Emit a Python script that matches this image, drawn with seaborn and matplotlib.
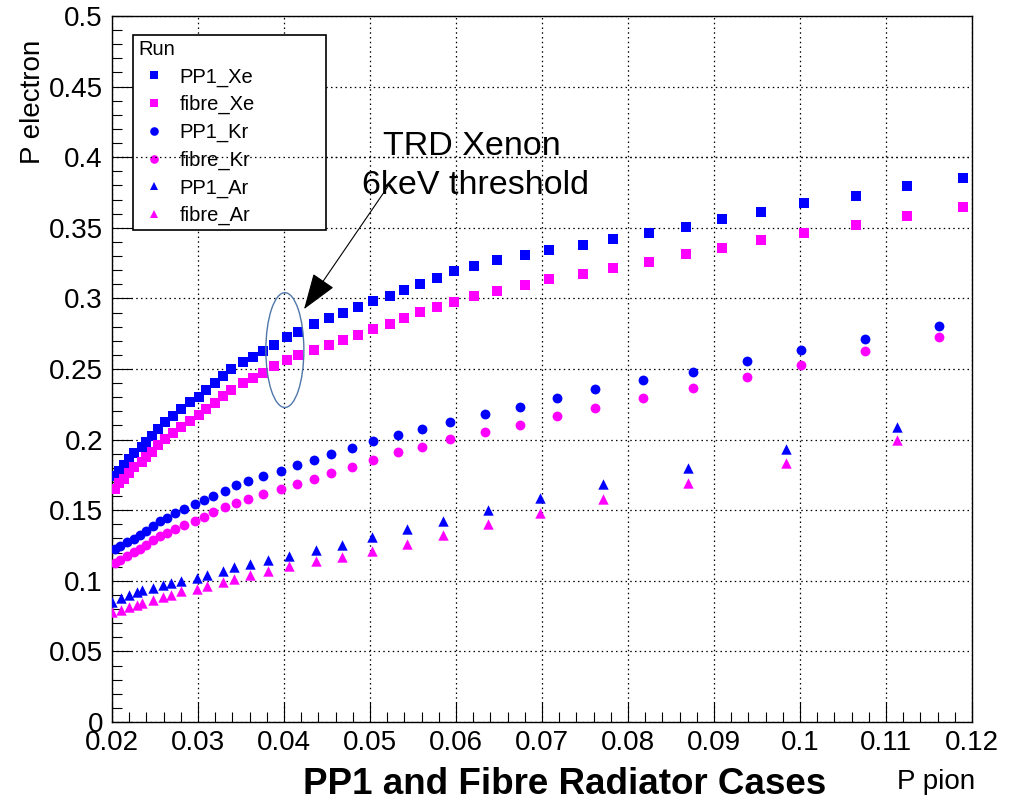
import matplotlib
matplotlib.use("Agg")
import numpy as np
import pandas as pd
import seaborn as sns
import matplotlib.pyplot as plt
from matplotlib.patches import Ellipse, FancyArrowPatch
from matplotlib.lines import Line2D
from matplotlib.ticker import MultipleLocator, FuncFormatter

# ---------------- data (P pion vs P electron) ----------------
xe_p_pion = [0.0203, 0.0208, 0.0214, 0.0220, 0.0226, 0.0235, 0.0239, 0.0246, 0.0253, 0.0262,
             0.0271, 0.0280, 0.0291, 0.0301, 0.0309, 0.0320, 0.0329, 0.0338, 0.0352, 0.0364,
             0.0375, 0.0388, 0.0403, 0.0416, 0.0435, 0.0452, 0.0469, 0.0486, 0.0504, 0.0523,
             0.0540, 0.0558, 0.0578, 0.0598, 0.0621, 0.0648, 0.0680, 0.0708, 0.0748, 0.0783,
             0.0824, 0.0867, 0.0909, 0.0955, 0.1005, 0.1065, 0.1124, 0.1190]
pp1_xe = [0.1743, 0.1779, 0.1821, 0.1863, 0.1904, 0.1951, 0.1986, 0.2028, 0.2076, 0.2123,
          0.2170, 0.2215, 0.2264, 0.2304, 0.2351, 0.2403, 0.2450, 0.2500, 0.2550, 0.2587,
          0.2627, 0.2672, 0.2724, 0.2764, 0.2816, 0.2859, 0.2896, 0.2938, 0.2981, 0.3018,
          0.3059, 0.3101, 0.3146, 0.3191, 0.3226, 0.3269, 0.3306, 0.3344, 0.3377, 0.3421,
          0.3464, 0.3509, 0.3561, 0.3615, 0.3674, 0.3723, 0.3794, 0.3851]
fibre_xe = [0.1651, 0.1692, 0.1722, 0.1762, 0.1809, 0.1844, 0.1880, 0.1915, 0.1963, 0.2005,
            0.2050, 0.2092, 0.2134, 0.2175, 0.2217, 0.2262, 0.2309, 0.2351, 0.2399, 0.2434,
            0.2474, 0.2523, 0.2564, 0.2597, 0.2634, 0.2672, 0.2705, 0.2743, 0.2781, 0.2818,
            0.2859, 0.2901, 0.2941, 0.2976, 0.3016, 0.3052, 0.3096, 0.3136, 0.3172, 0.3212,
            0.3259, 0.3311, 0.3358, 0.3412, 0.3462, 0.3518, 0.3582, 0.3646]

kr_p_pion = [0.0203, 0.0209, 0.0217, 0.0225, 0.0233, 0.0240, 0.0248, 0.0256, 0.0264, 0.0273,
             0.0284, 0.0296, 0.0307, 0.0318, 0.0331, 0.0344, 0.0358, 0.0375, 0.0396, 0.0415,
             0.0435, 0.0455, 0.0479, 0.0504, 0.0532, 0.0561, 0.0593, 0.0634, 0.0674, 0.0717,
             0.0762, 0.0817, 0.0875, 0.0938, 0.1001, 0.1075, 0.1162]
pp1_kr = [0.1225, 0.1243, 0.1272, 0.1298, 0.1326, 0.1356, 0.1385, 0.1420, 0.1448, 0.1479,
          0.1508, 0.1543, 0.1574, 0.1604, 0.1639, 0.1675, 0.1710, 0.1745, 0.1781, 0.1821,
          0.1859, 0.1899, 0.1943, 0.1989, 0.2033, 0.2078, 0.2123, 0.2180, 0.2233, 0.2295,
          0.2356, 0.2420, 0.2481, 0.2557, 0.2632, 0.2712, 0.2802]
fibre_kr = [0.1126, 0.1149, 0.1173, 0.1201, 0.1225, 0.1255, 0.1286, 0.1314, 0.1338, 0.1366,
            0.1397, 0.1427, 0.1455, 0.1487, 0.1522, 0.1554, 0.1581, 0.1616, 0.1651, 0.1687,
            0.1724, 0.1762, 0.1809, 0.1856, 0.1909, 0.1951, 0.2003, 0.2057, 0.2104, 0.2165,
            0.2224, 0.2293, 0.2368, 0.2446, 0.2528, 0.2625, 0.2726]

ar_p_pion = [0.0200, 0.0210, 0.0220, 0.0229, 0.0235, 0.0248, 0.0259, 0.0269, 0.0280, 0.0299,
             0.0311, 0.0329, 0.0342, 0.0360, 0.0381, 0.0406, 0.0437, 0.0468, 0.0502, 0.0543,
             0.0585, 0.0637, 0.0698, 0.0771, 0.0870, 0.0984, 0.1113]
pp1_ar = [0.0850, 0.0878, 0.0897, 0.0918, 0.0932, 0.0949, 0.0967, 0.0984, 0.1001, 0.1020,
          0.1043, 0.1068, 0.1095, 0.1120, 0.1146, 0.1178, 0.1215, 0.1255, 0.1307, 0.1365,
          0.1425, 0.1499, 0.1584, 0.1683, 0.1798, 0.1932, 0.2092]
fibre_ar = [0.0777, 0.0796, 0.0812, 0.0826, 0.0843, 0.0861, 0.0883, 0.0902, 0.0925, 0.0944,
            0.0965, 0.0992, 0.1013, 0.1041, 0.1070, 0.1102, 0.1137, 0.1168, 0.1213, 0.1262,
            0.1326, 0.1400, 0.1478, 0.1577, 0.1692, 0.1837, 0.1998]

run_names = ["PP1_Xe", "fibre_Xe", "PP1_Kr", "fibre_Kr", "PP1_Ar", "fibre_Ar"]
run_x = [xe_p_pion, xe_p_pion, kr_p_pion, kr_p_pion, ar_p_pion, ar_p_pion]
run_y = [pp1_xe, fibre_xe, pp1_kr, fibre_kr, pp1_ar, fibre_ar]

x_ticks = [0.02, 0.03, 0.04, 0.05, 0.06, 0.07, 0.08, 0.09, 0.10, 0.11, 0.12]
y_ticks = [0, 0.05, 0.1, 0.15, 0.2, 0.25, 0.3, 0.35, 0.4, 0.45, 0.5]

BLUE = "#0000ff"
MAGENTA = "#ff00ff"
colors = {"PP1_Xe": BLUE, "fibre_Xe": MAGENTA, "PP1_Kr": BLUE,
          "fibre_Kr": MAGENTA, "PP1_Ar": BLUE, "fibre_Ar": MAGENTA}
markers = {"PP1_Xe": "s", "fibre_Xe": "s", "PP1_Kr": "o",
           "fibre_Kr": "o", "PP1_Ar": "^", "fibre_Ar": "^"}
sizes = {"s": 48, "o": 50, "^": 56}

df = pd.concat([pd.DataFrame({"p_pion": xs, "p_electron": ys, "run": name})
                for name, xs, ys in zip(run_names, run_x, run_y)], ignore_index=True)

# ---------------- style ----------------
sns.set_style("white")
plt.rcParams["font.family"] = ["Liberation Sans", "DejaVu Sans"]
plt.rcParams["text.color"] = "black"
plt.rcParams["axes.labelcolor"] = "black"
plt.rcParams["xtick.color"] = "black"
plt.rcParams["ytick.color"] = "black"
plt.rcParams["lines.scale_dashes"] = True

W, H = 1015, 802
fig = plt.figure(figsize=(W / 100, H / 100), dpi=100)
L, R, T, B = 112, 972, 16, 722
ax = fig.add_axes([L / W, 1 - B / H, (R - L) / W, (B - T) / H])

for name in run_names:
    sub = df[df["run"] == name]
    m = markers[name]
    sns.scatterplot(data=sub, x="p_pion", y="p_electron", ax=ax, color=colors[name],
                    marker=m, s=sizes[m], linewidth=0, legend=False, zorder=3)

ax.set_xlim(0.02, 0.12)
ax.set_ylim(0, 0.5)
ax.set_xlabel("")
ax.set_ylabel("")

fmt = FuncFormatter(lambda v, p: "%g" % round(v, 6))
ax.set_xticks(x_ticks)
ax.set_yticks(y_ticks)
ax.xaxis.set_minor_locator(MultipleLocator(0.002))
ax.yaxis.set_minor_locator(MultipleLocator(0.01))
ax.xaxis.set_major_formatter(fmt)
ax.yaxis.set_major_formatter(fmt)
ax.tick_params(which="both", direction="in", bottom=True, left=True, top=False, right=False,
               color="black", width=0.8, labelsize=20, labelcolor="black")
ax.tick_params(which="major", length=14.5)
ax.tick_params(which="minor", length=7.2)
ax.tick_params(axis="y", which="major", pad=6.5)
ax.tick_params(axis="x", which="major", pad=5.5)

for sp in ax.spines.values():
    sp.set_visible(True)
    sp.set_color("black")
    sp.set_linewidth(1.0)

ax.grid(True, which="major", color="black", linestyle=(0, (1.2, 2.6)), linewidth=0.9)
ax.grid(False, which="minor")
ax.set_axisbelow(True)

# axis titles
fig.text(975 / W, 1 - 782 / H, "P pion", ha="right", va="center", fontsize=20, color="black")
fig.text(33 / W, 1 - 40 / H, "P electron", rotation=90, ha="center", va="top", fontsize=20,
         color="black")
fig.text(565 / W, 1 - 785 / H, "PP1 and Fibre Radiator Cases", ha="center", va="center",
         fontsize=26.5, fontweight="bold", color="black")

# annotation
ax.text(0.0618, 0.4075, "TRD Xenon", ha="center", va="center", fontsize=24.5, color="black")
ax.text(0.0623, 0.3800, "6keV threshold", ha="center", va="center", fontsize=24.5,
        color="black")
arrow = FancyArrowPatch((0.0521, 0.3794), (0.04233, 0.2924),
                        arrowstyle="-|>,head_length=2.3,head_width=0.8", mutation_scale=10,
                        shrinkA=0, shrinkB=0, color="black", lw=0.8, zorder=6)
ax.add_patch(arrow)
ell = Ellipse((0.0401, 0.2634), width=0.00442, height=0.0813, fill=False,
              edgecolor="#4f77aa", linewidth=1.0, zorder=6)
ax.add_patch(ell)

# legend
handles = [Line2D([0], [0], linestyle="none", marker=markers[n], color=colors[n],
                  markersize=6.2, markeredgewidth=0) for n in run_names]
leg = ax.legend(handles, run_names, title="Run", loc="upper left",
                bbox_to_anchor=(133 / W, 1 - 227 / H, 193 / W, 192 / H),
                bbox_transform=fig.transFigure, mode="expand", borderaxespad=0,
                frameon=True, fancybox=False, edgecolor="black", framealpha=1,
                fontsize=14.5, title_fontsize=14.5, borderpad=0.25,
                labelspacing=0.42, handlelength=1.6, handletextpad=0.45,
                alignment="left", labelcolor="black")
leg.get_title().set_color("black")
leg.get_frame().set_linewidth(1.2)
leg.set_zorder(5)
# the 0.4 grid line shows on top of the legend in the reference
ax.axhline(0.4, color="black", linestyle=(0, (1.2, 2.6)), linewidth=0.9, zorder=7)

fig.savefig("out.png", dpi=100)
